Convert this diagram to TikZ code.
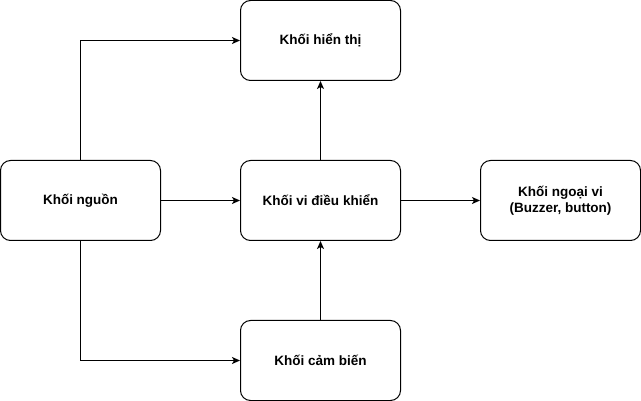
\documentclass[tikz,border=0pt]{standalone}
\usepackage{fontspec}
\setmainfont{Liberation Sans}
\usetikzlibrary{arrows.meta}
\begin{document}
\begin{tikzpicture}[x=1pt,y=-1pt,
  blk/.style={draw=black,line width=1pt,rounded corners=10pt,minimum width=160pt,minimum height=80pt,
    font=\fontsize{13.5}{16}\selectfont\bfseries,align=center,inner sep=0pt,fill=white},
  conn/.style={draw=black,line width=1pt,-{Stealth[length=8pt,width=7pt,inset=2pt]}}]
\useasboundingbox (0,0) rectangle (641,401);
\node[blk] (ht) at (320.5,40.5) {Khối hiển thị};
\node[blk] (ng) at (80.5,200.5) {Khối nguồn};
\node[blk] (vdk) at (320.5,200.5) {Khối vi điều khiển};
\node[blk] (nv) at (560.5,200.5) {Khối ngoại vi\\(Buzzer, button)};
\node[blk] (cb) at (320.5,360.5) {Khối cảm biến};
\draw[conn] (ng.north) |- (ht.west);
\draw[conn] (ng.east) -- (vdk.west);
\draw[conn] (ng.south) |- (cb.west);
\draw[conn] (vdk.north) -- (ht.south);
\draw[conn] (cb.north) -- (vdk.south);
\draw[conn] (vdk.east) -- (nv.west);
\end{tikzpicture}
\end{document}
